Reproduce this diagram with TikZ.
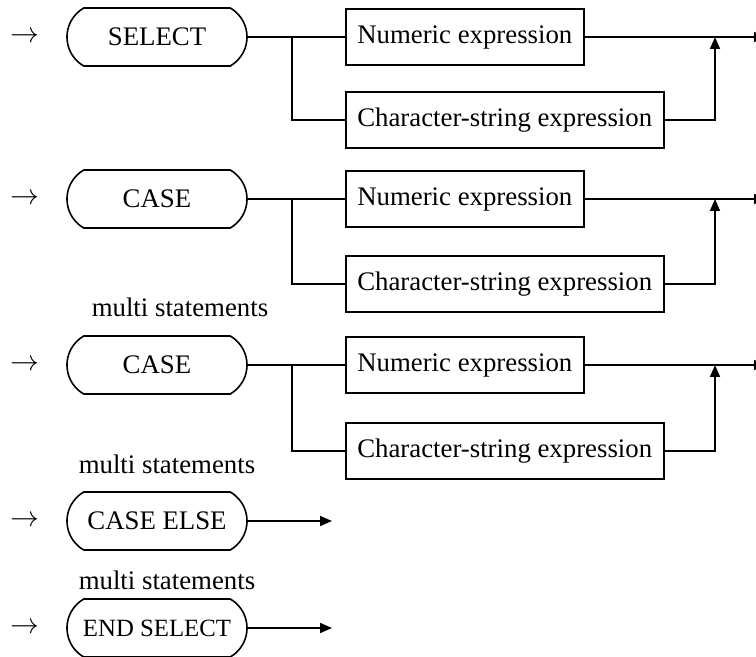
\documentclass[tikz,border=0pt]{standalone}
\usepackage{fontspec}
\setmainfont{Liberation Serif}
\usetikzlibrary{shapes.misc,arrows.meta}

\begin{document}
\begin{tikzpicture}[x=0.5pt,y=-0.5pt,line width=0.8pt,
  every node/.style={font=\fontsize{13.4}{16}\selectfont},
  keyword/.style={draw,rounded rectangle,rounded rectangle arc length=120,
    minimum width=90pt,minimum height=29pt,inner sep=0pt},
  exprbox/.style={draw,anchor=west,minimum height=28pt,inner xsep=5.75pt,inner ysep=0pt},
  flow/.style={-{Triangle[length=6pt,width=5pt]}}]
\useasboundingbox (0,0) rectangle (756,657);

% SELECT row
\node (in1) at (25,37) {$\rightarrow$};
\node[keyword] (sel) at (157,37) {SELECT};
\node[exprbox] (num1) at (345,37) {Numeric expression};
\node[exprbox] (chr1) at (345,120) {Character-string expression};
\coordinate (b1) at (292,37);
\coordinate (j1) at (715,37);
\coordinate (e1) at (766,37);
\draw (sel) -- (num1);
\draw (b1) |- (chr1);
\draw[flow] (num1) -- (e1);
\draw[flow] (chr1) -| (j1);

% first CASE row
\node (in2) at (25,199) {$\rightarrow$};
\node[keyword] (case1) at (157,199) {CASE};
\node[exprbox] (num2) at (345,199) {Numeric expression};
\node[exprbox] (chr2) at (345,284) {Character-string expression};
\coordinate (b2) at (292,199);
\coordinate (j2) at (715,199);
\coordinate (e2) at (766,199);
\draw (case1) -- (num2);
\draw (b2) |- (chr2);
\draw[flow] (num2) -- (e2);
\draw[flow] (chr2) -| (j2);
\node (ms1) at (180,307) {multi statements};

% second CASE row
\node (in3) at (25,365) {$\rightarrow$};
\node[keyword] (case2) at (157,365) {CASE};
\node[exprbox] (num3) at (345,365) {Numeric expression};
\node[exprbox] (chr3) at (345,451) {Character-string expression};
\coordinate (b3) at (292,365);
\coordinate (j3) at (715,365);
\coordinate (e3) at (766,365);
\draw (case2) -- (num3);
\draw (b3) |- (chr3);
\draw[flow] (num3) -- (e3);
\draw[flow] (chr3) -| (j3);
\node (ms2) at (167,464) {multi statements};

% CASE ELSE row
\node (in4) at (25,521) {$\rightarrow$};
\node[keyword] (celse) at (157,521) {CASE ELSE};
\coordinate (e4) at (332,521);
\draw[flow] (celse) -- (e4);
\node (ms3) at (167,580) {multi statements};

% END SELECT row
\node (in5) at (25,628) {$\rightarrow$};
\node[keyword,font=\fontsize{12.4}{15}\selectfont] (endsel) at (157,628) {END SELECT};
\coordinate (e5) at (332,628);
\draw[flow] (endsel) -- (e5);

\end{tikzpicture}
\end{document}
